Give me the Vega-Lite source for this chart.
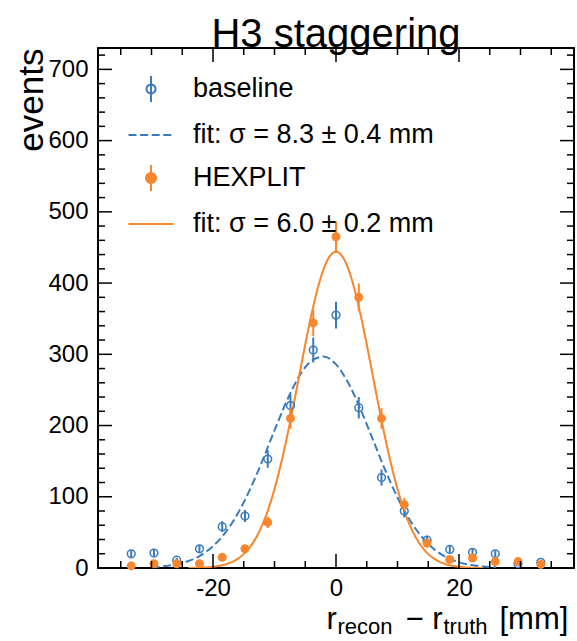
{
  "$schema": "https://vega.github.io/schema/vega-lite/v6.json",
  "width": 476,
  "height": 520,
  "autosize": {"type": "none"},
  "padding": {"left": 98, "top": 48, "right": 3, "bottom": 73},
  "title": {"text": "H3 staggering", "fontSize": 40, "font": "Liberation Sans", "fontWeight": "normal", "anchor": "middle", "offset": -8, "color": "black"},
  "config": {
    "view": {"stroke": "black", "strokeWidth": 2},
    "font": "Liberation Sans",
    "axis": {"grid": false, "domain": false, "labelColor": "black", "tickColor": "black", "titleColor": "black", "labelFont": "Liberation Sans", "titleFont": "Liberation Sans", "titleFontWeight": "normal"}
  },
  "datasets": {
    "blueFit": [
      {"x": -30, "y": 1.13, "series": "fit: σ = 8.3 ± 0.4 mm"},
      {"x": -28, "y": 2.46, "series": "fit: σ = 8.3 ± 0.4 mm"},
      {"x": -26, "y": 5.04, "series": "fit: σ = 8.3 ± 0.4 mm"},
      {"x": -24, "y": 9.74, "series": "fit: σ = 8.3 ± 0.4 mm"},
      {"x": -22, "y": 17.75, "series": "fit: σ = 8.3 ± 0.4 mm"},
      {"x": -20, "y": 30.6, "series": "fit: σ = 8.3 ± 0.4 mm"},
      {"x": -18, "y": 49.6, "series": "fit: σ = 8.3 ± 0.4 mm"},
      {"x": -16, "y": 76.1, "series": "fit: σ = 8.3 ± 0.4 mm"},
      {"x": -14, "y": 110.0, "series": "fit: σ = 8.3 ± 0.4 mm"},
      {"x": -12, "y": 150.0, "series": "fit: σ = 8.3 ± 0.4 mm"},
      {"x": -10, "y": 193.1, "series": "fit: σ = 8.3 ± 0.4 mm"},
      {"x": -8, "y": 234.6, "series": "fit: σ = 8.3 ± 0.4 mm"},
      {"x": -6, "y": 268.9, "series": "fit: σ = 8.3 ± 0.4 mm"},
      {"x": -4, "y": 290.8, "series": "fit: σ = 8.3 ± 0.4 mm"},
      {"x": -2, "y": 296.8, "series": "fit: σ = 8.3 ± 0.4 mm"},
      {"x": 0, "y": 285.8, "series": "fit: σ = 8.3 ± 0.4 mm"},
      {"x": 2, "y": 259.7, "series": "fit: σ = 8.3 ± 0.4 mm"},
      {"x": 4, "y": 222.7, "series": "fit: σ = 8.3 ± 0.4 mm"},
      {"x": 6, "y": 180.1, "series": "fit: σ = 8.3 ± 0.4 mm"},
      {"x": 8, "y": 137.5, "series": "fit: σ = 8.3 ± 0.4 mm"},
      {"x": 10, "y": 99.0, "series": "fit: σ = 8.3 ± 0.4 mm"},
      {"x": 12, "y": 67.3, "series": "fit: σ = 8.3 ± 0.4 mm"},
      {"x": 14, "y": 43.2, "series": "fit: σ = 8.3 ± 0.4 mm"},
      {"x": 16, "y": 26.1, "series": "fit: σ = 8.3 ± 0.4 mm"},
      {"x": 18, "y": 14.9, "series": "fit: σ = 8.3 ± 0.4 mm"},
      {"x": 20, "y": 8.0, "series": "fit: σ = 8.3 ± 0.4 mm"},
      {"x": 22, "y": 4.1, "series": "fit: σ = 8.3 ± 0.4 mm"},
      {"x": 24, "y": 1.96, "series": "fit: σ = 8.3 ± 0.4 mm"},
      {"x": 26, "y": 0.89, "series": "fit: σ = 8.3 ± 0.4 mm"}
    ],
    "orangeFit": [
      {"x": -24, "y": 0.15, "series": "fit: σ = 6.0 ± 0.2 mm"},
      {"x": -22, "y": 0.5, "series": "fit: σ = 6.0 ± 0.2 mm"},
      {"x": -20, "y": 1.7, "series": "fit: σ = 6.0 ± 0.2 mm"},
      {"x": -18, "y": 4.9, "series": "fit: σ = 6.0 ± 0.2 mm"},
      {"x": -17, "y": 8.0, "series": "fit: σ = 6.0 ± 0.2 mm"},
      {"x": -16, "y": 12.7, "series": "fit: σ = 6.0 ± 0.2 mm"},
      {"x": -15, "y": 19.5, "series": "fit: σ = 6.0 ± 0.2 mm"},
      {"x": -14, "y": 29.2, "series": "fit: σ = 6.0 ± 0.2 mm"},
      {"x": -13, "y": 42.4, "series": "fit: σ = 6.0 ± 0.2 mm"},
      {"x": -12, "y": 60.1, "series": "fit: σ = 6.0 ± 0.2 mm"},
      {"x": -11, "y": 82.7, "series": "fit: σ = 6.0 ± 0.2 mm"},
      {"x": -10, "y": 110.7, "series": "fit: σ = 6.0 ± 0.2 mm"},
      {"x": -9, "y": 144.2, "series": "fit: σ = 6.0 ± 0.2 mm"},
      {"x": -8, "y": 182.5, "series": "fit: σ = 6.0 ± 0.2 mm"},
      {"x": -7, "y": 224.8, "series": "fit: σ = 6.0 ± 0.2 mm"},
      {"x": -6, "y": 269.3, "series": "fit: σ = 6.0 ± 0.2 mm"},
      {"x": -5, "y": 313.7, "series": "fit: σ = 6.0 ± 0.2 mm"},
      {"x": -4, "y": 355.5, "series": "fit: σ = 6.0 ± 0.2 mm"},
      {"x": -3, "y": 391.8, "series": "fit: σ = 6.0 ± 0.2 mm"},
      {"x": -2, "y": 420.0, "series": "fit: σ = 6.0 ± 0.2 mm"},
      {"x": -1, "y": 437.9, "series": "fit: σ = 6.0 ± 0.2 mm"},
      {"x": 0, "y": 444.0, "series": "fit: σ = 6.0 ± 0.2 mm"},
      {"x": 1, "y": 437.9, "series": "fit: σ = 6.0 ± 0.2 mm"},
      {"x": 2, "y": 420.0, "series": "fit: σ = 6.0 ± 0.2 mm"},
      {"x": 3, "y": 391.8, "series": "fit: σ = 6.0 ± 0.2 mm"},
      {"x": 4, "y": 355.5, "series": "fit: σ = 6.0 ± 0.2 mm"},
      {"x": 5, "y": 313.7, "series": "fit: σ = 6.0 ± 0.2 mm"},
      {"x": 6, "y": 269.3, "series": "fit: σ = 6.0 ± 0.2 mm"},
      {"x": 7, "y": 224.8, "series": "fit: σ = 6.0 ± 0.2 mm"},
      {"x": 8, "y": 182.5, "series": "fit: σ = 6.0 ± 0.2 mm"},
      {"x": 9, "y": 144.2, "series": "fit: σ = 6.0 ± 0.2 mm"},
      {"x": 10, "y": 110.7, "series": "fit: σ = 6.0 ± 0.2 mm"},
      {"x": 11, "y": 82.7, "series": "fit: σ = 6.0 ± 0.2 mm"},
      {"x": 12, "y": 60.1, "series": "fit: σ = 6.0 ± 0.2 mm"},
      {"x": 13, "y": 42.4, "series": "fit: σ = 6.0 ± 0.2 mm"},
      {"x": 14, "y": 29.2, "series": "fit: σ = 6.0 ± 0.2 mm"},
      {"x": 15, "y": 19.5, "series": "fit: σ = 6.0 ± 0.2 mm"},
      {"x": 16, "y": 12.7, "series": "fit: σ = 6.0 ± 0.2 mm"},
      {"x": 17, "y": 8.0, "series": "fit: σ = 6.0 ± 0.2 mm"},
      {"x": 18, "y": 4.9, "series": "fit: σ = 6.0 ± 0.2 mm"},
      {"x": 20, "y": 1.7, "series": "fit: σ = 6.0 ± 0.2 mm"},
      {"x": 22, "y": 0.5, "series": "fit: σ = 6.0 ± 0.2 mm"},
      {"x": 24, "y": 0.15, "series": "fit: σ = 6.0 ± 0.2 mm"}
    ],
    "baseline": [
      {"x": -33.3, "y": 20, "lo": 15.5, "hi": 24.5},
      {"x": -29.6, "y": 21, "lo": 16.4, "hi": 25.6},
      {"x": -25.9, "y": 11, "lo": 7.7, "hi": 14.3},
      {"x": -22.2, "y": 27, "lo": 21.8, "hi": 32.2},
      {"x": -18.5, "y": 58, "lo": 50.4, "hi": 65.6},
      {"x": -14.8, "y": 73, "lo": 64.5, "hi": 81.5},
      {"x": -11.1, "y": 153, "lo": 140.6, "hi": 165.4},
      {"x": -7.4, "y": 228, "lo": 212.9, "hi": 243.1},
      {"x": -3.7, "y": 306, "lo": 288.5, "hi": 323.5},
      {"x": 0, "y": 355, "lo": 336.2, "hi": 373.8},
      {"x": 3.7, "y": 225, "lo": 210, "hi": 240},
      {"x": 7.4, "y": 127, "lo": 115.7, "hi": 138.3},
      {"x": 11.1, "y": 80, "lo": 71.1, "hi": 88.9},
      {"x": 14.8, "y": 39, "lo": 32.8, "hi": 45.2},
      {"x": 18.5, "y": 26, "lo": 20.9, "hi": 31.1},
      {"x": 22.2, "y": 22, "lo": 17.3, "hi": 26.7},
      {"x": 25.9, "y": 20, "lo": 15.5, "hi": 24.5},
      {"x": 29.6, "y": 6, "lo": 3.6, "hi": 8.4},
      {"x": 33.3, "y": 8, "lo": 5.2, "hi": 10.8}
    ],
    "hexplit": [
      {"x": -33.3, "y": 3, "lo": 1.3, "hi": 4.7},
      {"x": -29.6, "y": 6, "lo": 3.6, "hi": 8.4},
      {"x": -25.9, "y": 6, "lo": 3.6, "hi": 8.4},
      {"x": -22.2, "y": 6, "lo": 3.6, "hi": 8.4},
      {"x": -18.5, "y": 15, "lo": 11.1, "hi": 18.9},
      {"x": -14.8, "y": 27, "lo": 21.8, "hi": 32.2},
      {"x": -11.1, "y": 64, "lo": 56, "hi": 72},
      {"x": -7.4, "y": 210, "lo": 195.5, "hi": 224.5},
      {"x": -3.7, "y": 344, "lo": 325.5, "hi": 362.5},
      {"x": 0, "y": 465, "lo": 443.4, "hi": 486.6},
      {"x": 3.7, "y": 380, "lo": 360.5, "hi": 399.5},
      {"x": 7.4, "y": 210, "lo": 195.5, "hi": 224.5},
      {"x": 11.1, "y": 89, "lo": 79.6, "hi": 98.4},
      {"x": 14.8, "y": 35, "lo": 29.1, "hi": 40.9},
      {"x": 18.5, "y": 12, "lo": 8.5, "hi": 15.5},
      {"x": 22.2, "y": 14, "lo": 10.3, "hi": 17.7},
      {"x": 25.9, "y": 9, "lo": 6, "hi": 12},
      {"x": 29.6, "y": 9, "lo": 6, "hi": 12},
      {"x": 33.3, "y": 5, "lo": 2.8, "hi": 7.2}
    ],
    "xticks": [
      {"v": -35, "kind": "minor"}, {"v": -30, "kind": "minor"}, {"v": -25, "kind": "minor"},
      {"v": -20, "kind": "major"}, {"v": -15, "kind": "minor"}, {"v": -10, "kind": "minor"},
      {"v": -5, "kind": "minor"}, {"v": 0, "kind": "major"}, {"v": 5, "kind": "minor"},
      {"v": 10, "kind": "minor"}, {"v": 15, "kind": "minor"}, {"v": 20, "kind": "major"},
      {"v": 25, "kind": "minor"}, {"v": 30, "kind": "minor"}, {"v": 35, "kind": "minor"}
    ],
    "yticks": [
      {"v": 20, "kind": "minor"}, {"v": 40, "kind": "minor"}, {"v": 60, "kind": "minor"}, {"v": 80, "kind": "minor"}, {"v": 100, "kind": "major"},
      {"v": 120, "kind": "minor"}, {"v": 140, "kind": "minor"}, {"v": 160, "kind": "minor"}, {"v": 180, "kind": "minor"}, {"v": 200, "kind": "major"},
      {"v": 220, "kind": "minor"}, {"v": 240, "kind": "minor"}, {"v": 260, "kind": "minor"}, {"v": 280, "kind": "minor"}, {"v": 300, "kind": "major"},
      {"v": 320, "kind": "minor"}, {"v": 340, "kind": "minor"}, {"v": 360, "kind": "minor"}, {"v": 380, "kind": "minor"}, {"v": 400, "kind": "major"},
      {"v": 420, "kind": "minor"}, {"v": 440, "kind": "minor"}, {"v": 460, "kind": "minor"}, {"v": 480, "kind": "minor"}, {"v": 500, "kind": "major"},
      {"v": 520, "kind": "minor"}, {"v": 540, "kind": "minor"}, {"v": 560, "kind": "minor"}, {"v": 580, "kind": "minor"}, {"v": 600, "kind": "major"},
      {"v": 620, "kind": "minor"}, {"v": 640, "kind": "minor"}, {"v": 660, "kind": "minor"}, {"v": 680, "kind": "minor"}, {"v": 700, "kind": "major"},
      {"v": 720, "kind": "minor"}
    ]
  },
  "layer": [
    {
      "data": {"name": "blueFit"},
      "mark": {"type": "line", "strokeWidth": 2, "strokeDash": [8, 3.6], "interpolate": "monotone", "clip": true},
      "encoding": {
        "x": {"field": "x", "type": "quantitative", "scale": {"domain": [-38.7, 38.7], "nice": false, "zero": false},
          "axis": {"orient": "bottom", "values": [-20, 0, 20], "ticks": false, "labelFontSize": 24, "labelPadding": 8,
            "labelExpr": "replace(datum.label, '−', '-')",
            "title": "[mm]", "titleFontSize": 31, "titleAlign": "left", "titleBaseline": "alphabetic", "titleX": 401, "titleY": 60}},
        "y": {"field": "y", "type": "quantitative", "scale": {"domain": [0, 730], "nice": false, "zero": true},
          "axis": {"orient": "left", "values": [0, 100, 200, 300, 400, 500, 600, 700], "ticks": false, "labelFontSize": 24, "labelPadding": 10,
            "title": "events", "titleFontSize": 35, "titleAngle": 270, "titleAlign": "right", "titleBaseline": "alphabetic", "titleX": -56, "titleY": 0}},
        "color": {"field": "series", "type": "nominal",
          "scale": {"domain": ["baseline", "fit: σ = 8.3 ± 0.4 mm", "HEXPLIT", "fit: σ = 6.0 ± 0.2 mm"], "range": ["#3a7bbd", "#3a7bbd", "#f7862e", "#f7862e"]},
          "legend": {"orient": "none", "legendX": 37, "legendY": 25, "title": null, "labelFontSize": 27, "labelFont": "Liberation Sans", "labelColor": "black", "labelOffset": 26, "rowPadding": 12, "symbolSize": 900, "padding": 0, "labelLimit": 400,
            "encode": {"symbols": {"update": {
              "shape": {"signal": "datum.value === 'baseline' ? 'M0,-0.87V0.87M0.3,0A0.3,0.3,0,1,1,-0.3,0A0.3,0.3,0,1,1,0.3,0' : datum.value === 'HEXPLIT' ? 'M0,-0.87V0.87M0.33,0A0.33,0.33,0,1,1,-0.33,0A0.33,0.33,0,1,1,0.33,0' : 'M-1.5,0H1.5'"},
              "fill": {"signal": "datum.value === 'HEXPLIT' ? '#f7862e' : 'transparent'"},
              "stroke": {"signal": "(datum.value === 'baseline' || indexof(datum.value, '8.3') >= 0) ? '#3a7bbd' : '#f7862e'"},
              "strokeDash": {"signal": "indexof(datum.value, '8.3') >= 0 ? [8, 3.6] : [1, 0]"},
              "strokeWidth": {"value": 2},
              "size": {"value": 900},
              "opacity": {"value": 1}
            }}}}}
      }
    },
    {
      "data": {"name": "orangeFit"},
      "mark": {"type": "line", "strokeWidth": 2, "interpolate": "monotone", "clip": true},
      "encoding": {
        "x": {"field": "x", "type": "quantitative", "scale": {"domain": [-38.7, 38.7], "nice": false, "zero": false},
          "axis": {"orient": "bottom", "labels": false, "ticks": false, "title": "r", "titleFontSize": 31, "titleAlign": "left", "titleBaseline": "alphabetic", "titleX": 228, "titleY": 60}},
        "y": {"field": "y", "type": "quantitative", "scale": {"domain": [0, 730], "nice": false}, "axis": null},
        "color": {"field": "series", "type": "nominal"}
      }
    },
    {
      "data": {"name": "baseline"},
      "mark": {"type": "rule", "color": "#3a7bbd", "strokeWidth": 2},
      "encoding": {
        "x": {"field": "x", "type": "quantitative", "scale": {"domain": [-38.7, 38.7], "nice": false, "zero": false},
          "axis": {"orient": "bottom", "labels": false, "ticks": false, "title": "recon", "titleFontSize": 22, "titleAlign": "left", "titleBaseline": "alphabetic", "titleX": 239, "titleY": 65}},
        "y": {"field": "lo", "type": "quantitative", "scale": {"domain": [0, 730], "nice": false}, "axis": null},
        "y2": {"field": "hi"}
      }
    },
    {
      "data": {"name": "baseline"},
      "mark": {"type": "point", "shape": "circle", "filled": false, "stroke": "#3a7bbd", "strokeWidth": 1.5, "size": 60, "opacity": 1},
      "encoding": {
        "x": {"field": "x", "type": "quantitative", "scale": {"domain": [-38.7, 38.7], "nice": false, "zero": false},
          "axis": {"orient": "bottom", "labels": false, "ticks": false, "title": "− r", "titleFontSize": 31, "titleAlign": "left", "titleBaseline": "alphabetic", "titleX": 307, "titleY": 60}},
        "y": {"field": "y", "type": "quantitative", "scale": {"domain": [0, 730], "nice": false}, "axis": null}
      }
    },
    {
      "data": {"name": "hexplit"},
      "mark": {"type": "rule", "color": "#f7862e", "strokeWidth": 2},
      "encoding": {
        "x": {"field": "x", "type": "quantitative", "scale": {"domain": [-38.7, 38.7], "nice": false, "zero": false},
          "axis": {"orient": "bottom", "labels": false, "ticks": false, "title": "truth", "titleFontSize": 22, "titleAlign": "left", "titleBaseline": "alphabetic", "titleX": 345, "titleY": 65}},
        "y": {"field": "lo", "type": "quantitative", "scale": {"domain": [0, 730], "nice": false}, "axis": null},
        "y2": {"field": "hi"}
      }
    },
    {
      "data": {"name": "hexplit"},
      "mark": {"type": "point", "shape": "circle", "filled": true, "color": "#f7862e", "size": 80, "opacity": 1},
      "encoding": {
        "x": {"field": "x", "type": "quantitative", "scale": {"domain": [-38.7, 38.7], "nice": false, "zero": false}, "axis": null},
        "y": {"field": "y", "type": "quantitative", "scale": {"domain": [0, 730], "nice": false}, "axis": null}
      }
    },
    {
      "data": {"name": "xticks"},
      "transform": [{"filter": "datum.kind === 'major'"}],
      "mark": {"type": "rule", "color": "black", "strokeWidth": 1.5},
      "encoding": {
        "x": {"field": "v", "type": "quantitative", "scale": {"domain": [-38.7, 38.7], "nice": false, "zero": false}, "axis": null},
        "y": {"datum": 0, "type": "quantitative", "axis": null},
        "y2": {"datum": 19.66}
      }
    },
    {
      "data": {"name": "xticks"},
      "transform": [{"filter": "datum.kind === 'minor'"}],
      "mark": {"type": "rule", "color": "black", "strokeWidth": 1.5},
      "encoding": {
        "x": {"field": "v", "type": "quantitative", "scale": {"domain": [-38.7, 38.7], "nice": false, "zero": false}, "axis": null},
        "y": {"datum": 0, "type": "quantitative", "axis": null},
        "y2": {"datum": 9.83}
      }
    },
    {
      "data": {"name": "xticks"},
      "transform": [{"filter": "datum.kind === 'major'"}],
      "mark": {"type": "rule", "color": "black", "strokeWidth": 1.5},
      "encoding": {
        "x": {"field": "v", "type": "quantitative", "scale": {"domain": [-38.7, 38.7], "nice": false, "zero": false}, "axis": null},
        "y": {"datum": 730, "type": "quantitative", "axis": null},
        "y2": {"datum": 710.34}
      }
    },
    {
      "data": {"name": "xticks"},
      "transform": [{"filter": "datum.kind === 'minor'"}],
      "mark": {"type": "rule", "color": "black", "strokeWidth": 1.5},
      "encoding": {
        "x": {"field": "v", "type": "quantitative", "scale": {"domain": [-38.7, 38.7], "nice": false, "zero": false}, "axis": null},
        "y": {"datum": 730, "type": "quantitative", "axis": null},
        "y2": {"datum": 720.17}
      }
    },
    {
      "data": {"name": "yticks"},
      "transform": [{"filter": "datum.kind === 'major'"}],
      "mark": {"type": "rule", "color": "black", "strokeWidth": 1.5},
      "encoding": {
        "y": {"field": "v", "type": "quantitative", "scale": {"domain": [0, 730], "nice": false}, "axis": null},
        "x": {"datum": -38.7, "type": "quantitative", "axis": null},
        "x2": {"datum": -36.42}
      }
    },
    {
      "data": {"name": "yticks"},
      "transform": [{"filter": "datum.kind === 'minor'"}],
      "mark": {"type": "rule", "color": "black", "strokeWidth": 1.5},
      "encoding": {
        "y": {"field": "v", "type": "quantitative", "scale": {"domain": [0, 730], "nice": false}, "axis": null},
        "x": {"datum": -38.7, "type": "quantitative", "axis": null},
        "x2": {"datum": -37.56}
      }
    },
    {
      "data": {"name": "yticks"},
      "transform": [{"filter": "datum.kind === 'major'"}],
      "mark": {"type": "rule", "color": "black", "strokeWidth": 1.5},
      "encoding": {
        "y": {"field": "v", "type": "quantitative", "scale": {"domain": [0, 730], "nice": false}, "axis": null},
        "x": {"datum": 38.7, "type": "quantitative", "axis": null},
        "x2": {"datum": 36.42}
      }
    },
    {
      "data": {"name": "yticks"},
      "transform": [{"filter": "datum.kind === 'minor'"}],
      "mark": {"type": "rule", "color": "black", "strokeWidth": 1.5},
      "encoding": {
        "y": {"field": "v", "type": "quantitative", "scale": {"domain": [0, 730], "nice": false}, "axis": null},
        "x": {"datum": 38.7, "type": "quantitative", "axis": null},
        "x2": {"datum": 37.56}
      }
    }
  ],
  "resolve": {"axis": {"x": "independent", "y": "independent"}}
}
